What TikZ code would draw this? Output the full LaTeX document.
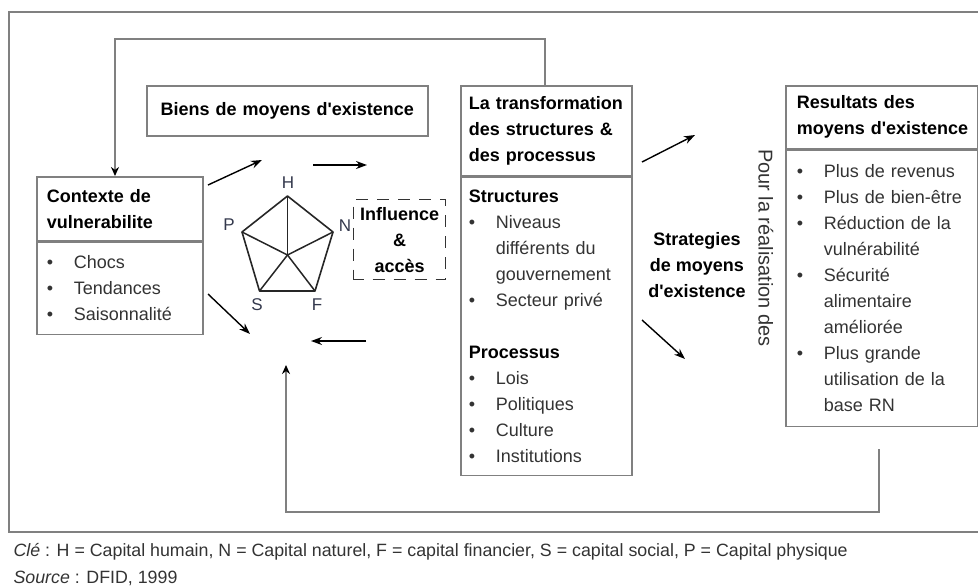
\documentclass[tikz,border=0pt]{standalone}
\usepackage{fontspec}
\setmainfont{Liberation Sans}
\usetikzlibrary{arrows.meta}

\definecolor{framegray}{rgb}{0.5,0.5,0.5}
\definecolor{textgray}{rgb}{0.2,0.2,0.2}
\definecolor{labelblue}{rgb}{0.2,0.22,0.3}

\newcommand{\blt}{\makebox[27pt][l]{\textbullet}}
\newcommand{\ind}{\hspace*{27pt}}
\newcommand{\subhead}[1]{\textbf{\color{black}#1}}
\newcommand{\apos}{\textquotesingle}

\tikzset{
  box/.style={draw=framegray, line width=1.6pt, rectangle, anchor=north west,
    inner xsep=10pt, inner ysep=0pt, align=left, text=textgray,
    font=\fontsize{18}{26}\selectfont},
  head/.style={box, text=black, font=\bfseries\fontsize{18}{26}\selectfont},
  arr/.style={-{Stealth[length=11pt,width=8pt]}, line width=1.4pt, black},
  fb/.style={draw=framegray, line width=1.6pt},
  fbtip/.style={-{Stealth[length=9pt,width=8pt,color=black]}},
  captext/.style={anchor=west, text=textgray, font=\fontsize{17.8}{22}\selectfont},
  vlabel/.style={text=labelblue, font=\fontsize{17}{18}\selectfont, inner sep=0pt}
}

\begin{document}
\begin{tikzpicture}[x=1pt,y=-1pt]
  \useasboundingbox (0,0) rectangle (978,587);
  % outer frame
  \draw[fb] (978,12) -- (9,12) -- (9,532) -- (978,532);

  % Boxes
  \node[head, text width=146pt, minimum height=64pt] (ctxh) at (36,176) {Contexte de\\vulnerabilite};
  \node[box, text width=146pt, minimum height=92pt] (ctxb) at (ctxh.south west) {\blt Chocs\\\blt Tendances\\\blt Saisonnalité};

  \node[head, align=center, text width=261pt, minimum height=50pt] (biens) at (146,85) {Biens de moyens d\apos existence};

  \node[head, inner xsep=8pt, text width=155pt, minimum height=90pt] (trh) at (460,85) {La transformation\\des structures \&\\des processus};
  \node[box, inner xsep=8pt, text width=155pt, minimum height=298pt] (trb) at (trh.south west) {\subhead{Structures}\\\blt Niveaus\\\ind différents du\\\ind gouvernement\\\blt Secteur privé\\[26pt]\subhead{Processus}\\\blt Lois\\\blt Politiques\\\blt Culture\\\blt Institutions};

  \node[head, inner xsep=11pt, text width=170pt, minimum height=63pt] (resh) at (785,85) {Resultats des\\\mbox{moyens d\apos existence}};
  \node[box, inner xsep=11pt, text width=170pt, minimum height=276pt] (resb) at (resh.south west) {\blt Plus de revenus\\\blt Plus de bien-être\\\blt Réduction de la\\\ind vulnérabilité\\\blt Sécurité\\\ind alimentaire\\\ind améliorée\\\blt Plus grande\\\ind utilisation de la\\\ind base RN};

  \node[head, draw=black!80, line width=1.4pt, dash pattern=on 12pt off 9pt, dash phase=2pt, align=center, inner xsep=0pt, text width=92pt, minimum height=80pt] (infl) at (353,199) {Influence\\\&\\accès};

  \node[head, draw=none, anchor=center, align=center, inner xsep=0pt] (strat) at (697,265) {Strategies\\de moyens\\d\apos existence};
  \node[rotate=-90, text=textgray, font=\fontsize{20}{22}\selectfont] (pour) at (766,248) {Pour la réalisation des};

  % Pentagon of assets
  \coordinate (H) at (287.5,196);
  \coordinate (P) at (242,232);
  \coordinate (N) at (333,232);
  \coordinate (S) at (259.5,291);
  \coordinate (F) at (315,291);
  \coordinate (O) at (287.5,255);
  \draw[line width=1.6pt, black!85, line join=round] (H) -- (N) -- (F) -- (S) -- (P) -- cycle;
  \foreach \v in {H,N,F,S,P} \draw[line width=1.5pt, black!85] (O) -- (\v);
  \node[vlabel] (lH) at (288,183) {H};
  \node[vlabel] (lP) at (229,225) {P};
  \node[vlabel] (lN) at (345,226) {N};
  \node[vlabel] (lS) at (257,305) {S};
  \node[vlabel] (lF) at (317,305) {F};

  % Arrows
  \coordinate (a1s) at (208,185); \coordinate (a1e) at (262,160);
  \coordinate (a2s) at (313,165); \coordinate (a2e) at (367,165);
  \coordinate (a3s) at (208,294); \coordinate (a3e) at (250,334);
  \coordinate (a4s) at (366,341); \coordinate (a4e) at (311,341);
  \coordinate (a5s) at (642,162); \coordinate (a5e) at (695,135);
  \coordinate (a6s) at (642,320); \coordinate (a6e) at (685,359);
  \foreach \i in {1,...,6} \draw[arr] (a\i s) -- (a\i e);

  % Feedback loops
  \coordinate (fbt) at (545,39);
  \coordinate (fbl) at (115,39);
  \draw[fb, fbtip] (fbt |- trh.north) -- (fbt) -- (fbl) -- (fbl |- ctxh.north);
  \coordinate (fbs) at (879,449);
  \coordinate (fbb) at (879,512);
  \coordinate (fbe) at (286,365);
  \draw[fb, fbtip] (fbs) -- (fbb) -| (fbe);

  % Caption
  \node[captext] (cle) at (10,552) {\textit{Clé} : H = Capital humain, N = Capital naturel, F = capital financier, S = capital social, P = Capital physique};
  \node[captext] (src) at (10,578) {\textit{Source} : DFID, 1999};
\end{tikzpicture}
\end{document}
